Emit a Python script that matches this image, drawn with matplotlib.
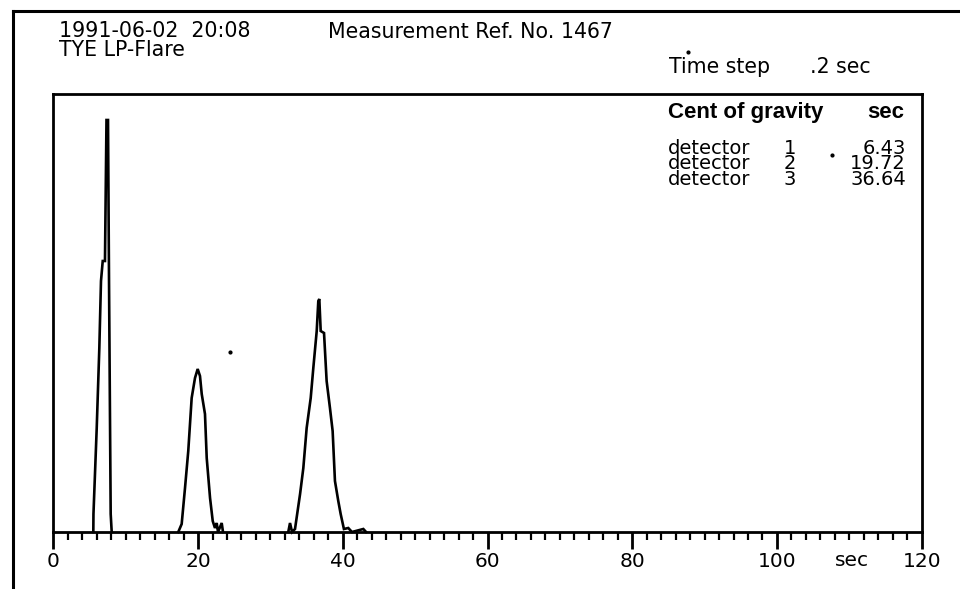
import matplotlib
matplotlib.use("Agg")
import matplotlib.pyplot as plt
from matplotlib.lines import Line2D
from matplotlib.ticker import MultipleLocator

plt.rcParams['font.family'] = ['DejaVu Sans']

# ---- data ----
det1_t = [5.53, 5.55, 6.00, 6.36, 6.59, 6.83, 7.14, 7.35, 7.56, 7.70, 7.83, 7.93, 8.07]
det1_c = [0, 18, 104, 184, 251, 271, 271, 412, 412, 251, 118, 18, 0]

det2_t = [17.27, 17.74, 18.20, 18.65, 19.12, 19.58, 19.95, 20.27, 20.51, 20.96,
          21.20, 21.66, 22.03, 22.34, 22.58, 22.76, 23.27, 23.45]
det2_c = [0, 8, 44, 81, 134, 154, 163, 156, 138, 118, 74, 34, 11, 4, 9, 0, 9, 0]

det3_t = [32.47, 32.71, 32.99, 33.40, 34.10, 34.55, 35.01, 35.57, 35.93, 36.40,
          36.62, 36.76, 36.95, 37.41, 37.77, 38.23, 38.60, 38.92, 39.38, 39.71,
          40.16, 40.76, 41.27, 42.84, 43.22]
det3_c = [0, 9, 0, 3, 38, 64, 104, 134, 164, 201, 231, 233, 201, 199, 151, 124,
          101, 51, 31, 18, 3, 4, 0, 3, 0]

detectors = ["1", "2", "3"]
cog = ["6.43", "19.72", "36.64"]
xticks = [0, 20, 40, 60, 80, 100, 120]

W, H = 960, 589
fig = plt.figure(figsize=(W / 100, H / 100), dpi=100)
fig.patch.set_facecolor('white')

def fx(px):
    return px / W

def fy(py):
    return 1 - py / H

ax = fig.add_axes([fx(53.3), fy(532), fx(921.7) - fx(53.3), fy(94) - fy(532)])
ax.set_xlim(0, 120)
ax.set_ylim(0, 438)

for t, c in [(det1_t, det1_c), (det2_t, det2_c), (det3_t, det3_c)]:
    ax.plot(t, c, color='black', lw=1.9, solid_joinstyle='miter', clip_on=False)

for s in ax.spines.values():
    s.set_linewidth(2.0)

ax.set_yticks([])
ax.set_xticks(xticks)
ax.xaxis.set_minor_locator(MultipleLocator(2))
ax.tick_params(axis='x', which='major', direction='out', length=12, width=2.0,
               labelsize=14.5, pad=2.5)
ax.tick_params(axis='x', which='minor', direction='out', length=6, width=1.6)
ax.set_xticklabels([str(v) for v in xticks])
fig.text(fx(852), fy(565.5), "sec", ha='center', va='baseline', fontsize=14.5)

FS = 14.8
# header texts
fig.text(fx(59), fy(56), "1991-06-02  20:08\nTYE LP-Flare", fontsize=FS,
         va='baseline', ha='left', linespacing=0.95)
fig.text(fx(328), fy(38), "Measurement Ref. No. 1467", fontsize=FS, va='baseline', ha='left')
fig.text(fx(669), fy(73), "Time step", fontsize=FS, va='baseline', ha='left')
fig.text(fx(810), fy(73), ".2 sec", fontsize=FS, va='baseline', ha='left')

# centre-of-gravity table
fig.text(fx(668), fy(118), "Cent of gravity", fontsize=16, fontweight='bold',
         family='Liberation Sans', va='baseline', ha='left')
fig.text(fx(904), fy(118), "sec", fontsize=16, fontweight='bold',
         family='Liberation Sans', va='baseline', ha='right')
fig.text(fx(668), fy(185), "\n".join(["detector"] * len(detectors)), fontsize=14,
         va='baseline', ha='left', linespacing=0.77)
fig.text(fx(790), fy(185), "\n".join(detectors), fontsize=14,
         va='baseline', ha='center', linespacing=0.77)
fig.text(fx(906), fy(185), "\n".join(cog), fontsize=14,
         va='baseline', ha='right', linespacing=0.77)

# outer scan border
fig.add_artist(Line2D([fx(13), 1.0], [fy(11), fy(11)], color='black', lw=2.2))
fig.add_artist(Line2D([fx(13), fx(13)], [fy(11), 0.0], color='black', lw=2.2))

# scan specks
for px, py in [(688, 52), (230, 352), (832, 155)]:
    fig.add_artist(Line2D([fx(px)], [fy(py)], marker='o', ms=2, color='black', lw=0))

fig.savefig("out.png", dpi=100, facecolor='white')
